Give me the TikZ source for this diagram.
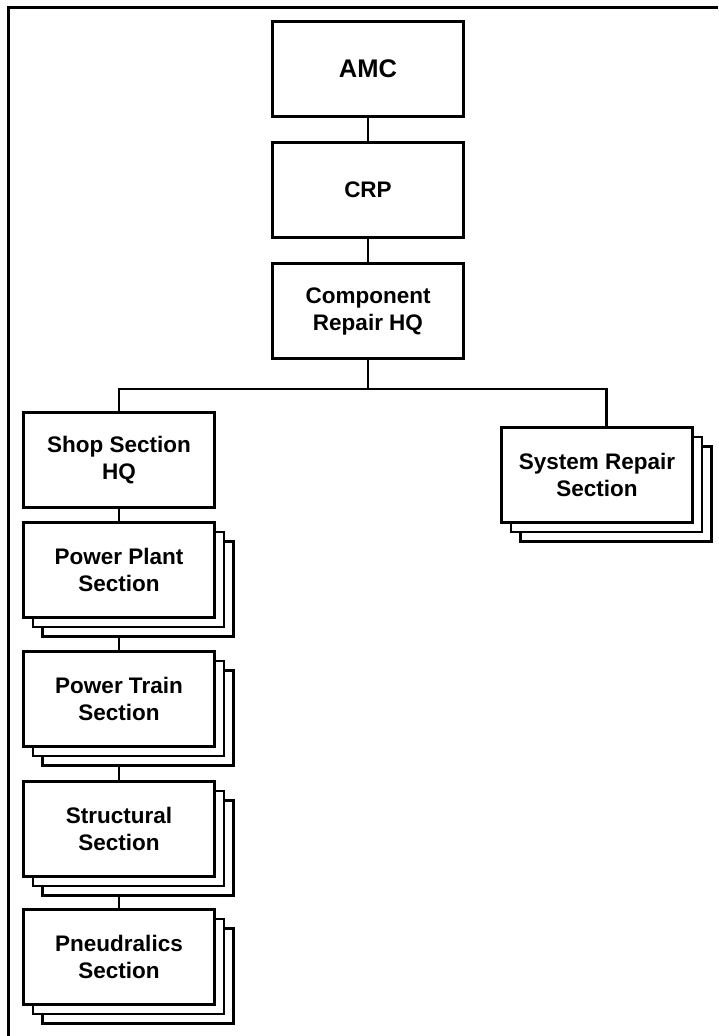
\documentclass[tikz,border=0pt]{standalone}
\usepackage{fontspec}
\setmainfont{Liberation Sans}
\usetikzlibrary{positioning,calc,backgrounds}

\begin{document}
\begin{tikzpicture}[x=1pt,y=-1pt,
  unit/.style={draw,fill=white,line width=2.4pt,minimum width=191pt,minimum height=95pt,
    align=center,inner sep=0pt,font=\fontsize{22.5}{27}\selectfont\bfseries},
  copy/.style={draw,fill=white,line width=2.4pt,minimum width=191pt,minimum height=95pt},
  link/.style={line width=2.4pt}]
  \useasboundingbox (0,0) rectangle (718,1036);
  \draw[line width=3pt] (8,1036) -- (8,7) -- (718,7);

  % top of the chain
  \node[unit,font=\fontsize{25.5}{30}\selectfont\bfseries] (amc) at (368,69) {AMC};
  \node[unit,below=23.6pt of amc] (crp) {CRP};
  \node[unit,below=23.6pt of crp] (comp) {Component\\Repair HQ};
  \coordinate (bus) at (368,389);

  \node[unit] (shop) at (119,460) {Shop Section\\HQ};

  % sections drawn as stacks of three sheets
  \foreach \name/\x/\y/\txt in {sys/597/475/{System Repair\\Section},
      pp/119/570/{Power Plant\\Section}, pt/119/699/{Power Train\\Section},
      st/119/829/{Structural\\Section}, pn/119/957/{Pneudralics\\Section}} {
    \node[copy] (\name-3) at (\x+19,\y+19) {};
    \node[copy] (\name-2) at (\x+9.5,\y+9.5) {};
    \node[unit] (\name) at (\x,\y) {\txt};
  }

  \begin{scope}[on background layer]
    \draw[link] (amc) -- (crp);
    \draw[link] (crp) -- (comp);
    \draw[link] (comp.south) -- (bus);
    \draw[link] (shop.north) |- (bus) -| ($(sys.north west)!0.5!(sys-3.north east)$);
    \draw[link] (shop) -- (pp);
    \draw[link] (pp) -- (pt);
    \draw[link] (pt) -- (st);
    \draw[link] (st) -- (pn);
  \end{scope}
\end{tikzpicture}
\end{document}
